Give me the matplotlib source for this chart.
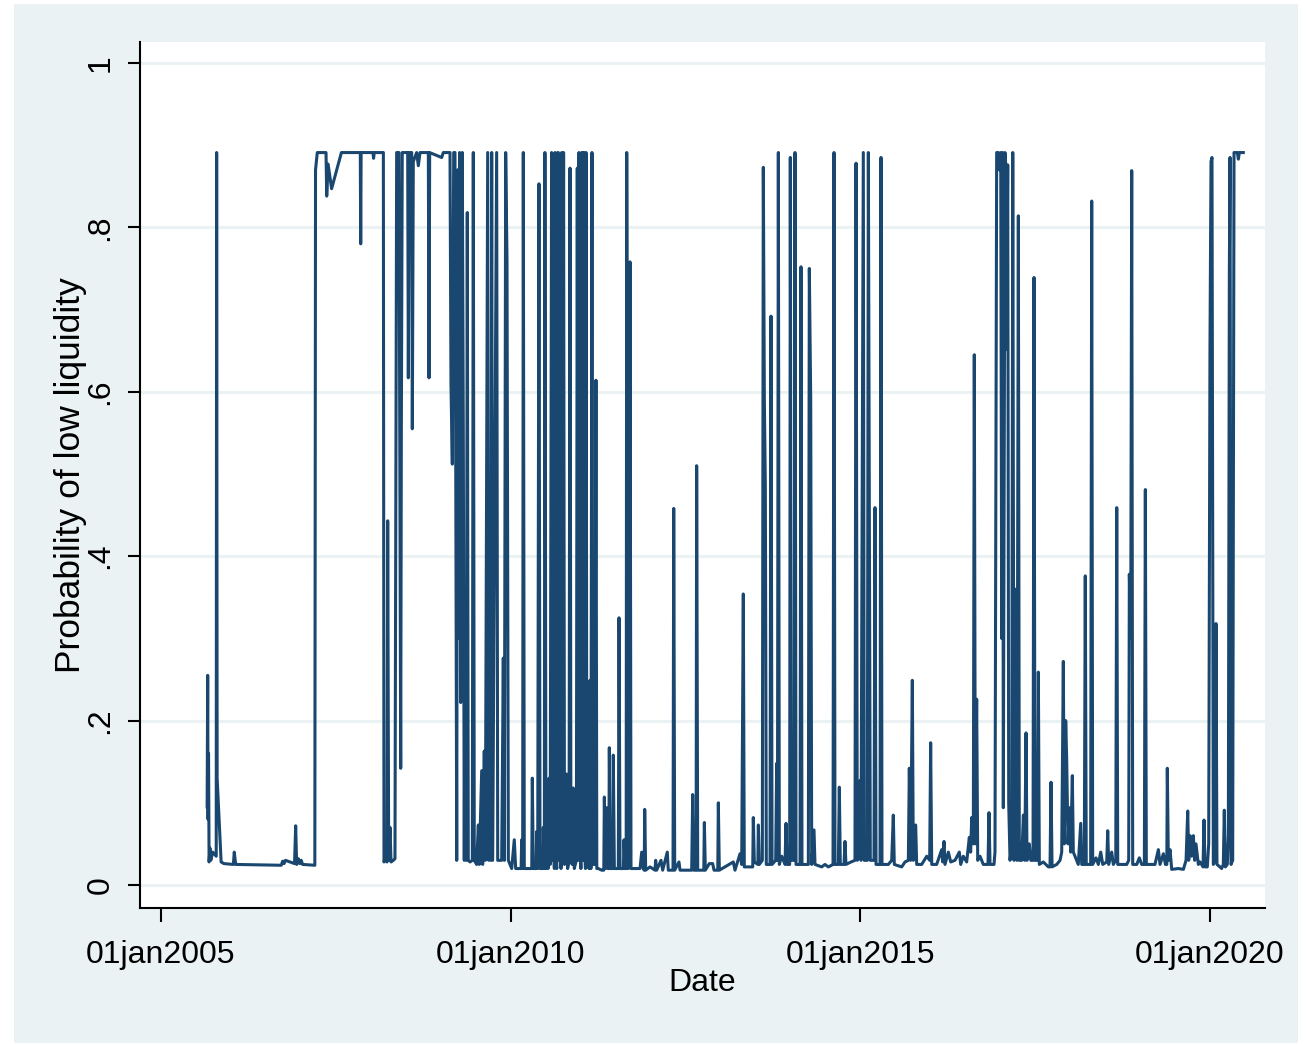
import numpy as np
import matplotlib
matplotlib.use('Agg')
import matplotlib.pyplot as plt
from matplotlib.patches import Rectangle

plt.rcParams['font.family'] = ['Liberation Sans', 'DejaVu Sans']

# ---------------------------------------------------------------------------
# Data: (decimal year, probability), one list per period
# ---------------------------------------------------------------------------
pts_2005_2008 = [
    (2005.660, 0.095), (2005.668, 0.255), (2005.673, 0.080), (2005.680, 0.160),
    (2005.688, 0.028), (2005.700, 0.045), (2005.712, 0.030), (2005.740, 0.040),
    (2005.790, 0.035), (2005.796, 0.891), (2005.803, 0.130), (2005.860, 0.028),
    (2005.900, 0.026), (2006.035, 0.025), (2006.048, 0.040), (2006.068, 0.025),
    (2006.720, 0.024), (2006.740, 0.029), (2006.760, 0.026), (2006.780, 0.030),
    (2006.910, 0.026), (2006.926, 0.072), (2006.940, 0.025), (2006.965, 0.032),
    (2006.985, 0.026), (2007.005, 0.030), (2007.025, 0.025), (2007.200, 0.024),
    (2007.210, 0.870), (2007.235, 0.891), (2007.360, 0.891), (2007.370, 0.838),
    (2007.390, 0.877), (2007.440, 0.847), (2007.580, 0.891), (2007.850, 0.891),
    (2007.856, 0.780), (2007.862, 0.891), (2008.030, 0.891), (2008.040, 0.884),
    (2008.050, 0.891), (2008.180, 0.891),
]

pts_2008_2010 = [
    (2008.189, 0.028), (2008.203, 0.032), (2008.232, 0.028), (2008.242, 0.443),
    (2008.256, 0.030), (2008.275, 0.070), (2008.290, 0.028), (2008.322, 0.030),
    (2008.346, 0.032), (2008.370, 0.891), (2008.403, 0.891), (2008.428, 0.142),
    (2008.437, 0.550), (2008.450, 0.891), (2008.528, 0.891), (2008.537, 0.617),
    (2008.550, 0.891), (2008.585, 0.891), (2008.594, 0.555), (2008.608, 0.880),
    (2008.656, 0.891), (2008.680, 0.875), (2008.704, 0.891), (2008.823, 0.891),
    (2008.833, 0.617), (2008.842, 0.891), (2009.014, 0.885), (2009.037, 0.891),
    (2009.133, 0.891), (2009.147, 0.608), (2009.166, 0.512), (2009.186, 0.891),
    (2009.204, 0.891), (2009.229, 0.030), (2009.243, 0.870), (2009.257, 0.300),
    (2009.271, 0.891), (2009.286, 0.222), (2009.309, 0.891), (2009.323, 0.547),
    (2009.337, 0.030), (2009.347, 0.321), (2009.366, 0.030), (2009.380, 0.818),
    (2009.394, 0.030), (2009.419, 0.028), (2009.452, 0.030), (2009.466, 0.891),
    (2009.480, 0.030), (2009.514, 0.025), (2009.538, 0.073), (2009.552, 0.025),
    (2009.586, 0.139), (2009.600, 0.025), (2009.623, 0.163), (2009.638, 0.030),
    (2009.672, 0.891), (2009.686, 0.030), (2009.705, 0.180), (2009.715, 0.030),
    (2009.729, 0.891), (2009.743, 0.030), (2009.800, 0.891), (2009.815, 0.030),
    (2009.872, 0.030), (2009.895, 0.276), (2009.909, 0.030), (2009.929, 0.891),
    (2009.948, 0.760), (2009.967, 0.030), (2010.015, 0.020), (2010.052, 0.055),
    (2010.072, 0.020), (2010.150, 0.020), (2010.158, 0.055), (2010.172, 0.020),
    (2010.181, 0.891), (2010.195, 0.020), (2010.252, 0.020), (2010.302, 0.020),
    (2010.310, 0.130), (2010.324, 0.020), (2010.365, 0.020), (2010.372, 0.065),
    (2010.387, 0.020), (2010.405, 0.853), (2010.420, 0.020), (2010.460, 0.020),
    (2010.467, 0.070), (2010.482, 0.020), (2010.490, 0.891),
]

pts_2010_2011 = [
    (2010.505, 0.020), (2010.520, 0.050), (2010.535, 0.020), (2010.550, 0.130),
    (2010.565, 0.025), (2010.586, 0.891), (2010.600, 0.030), (2010.615, 0.070),
    (2010.625, 0.020), (2010.634, 0.891), (2010.645, 0.030), (2010.660, 0.020),
    (2010.672, 0.891), (2010.682, 0.891), (2010.695, 0.030), (2010.710, 0.100),
    (2010.720, 0.020), (2010.730, 0.891), (2010.742, 0.030), (2010.757, 0.891),
    (2010.770, 0.025), (2010.800, 0.135), (2010.815, 0.020), (2010.835, 0.030),
    (2010.849, 0.872), (2010.862, 0.030), (2010.880, 0.025), (2010.896, 0.118),
    (2010.910, 0.020), (2010.940, 0.030), (2010.953, 0.872), (2010.965, 0.030),
    (2010.977, 0.891), (2010.990, 0.050), (2011.005, 0.020), (2011.016, 0.891),
    (2011.028, 0.891), (2011.038, 0.030), (2011.049, 0.891), (2011.060, 0.040),
    (2011.070, 0.020), (2011.078, 0.891), (2011.090, 0.025), (2011.110, 0.040),
    (2011.120, 0.020), (2011.135, 0.249), (2011.148, 0.020), (2011.163, 0.891),
    (2011.175, 0.025), (2011.205, 0.025), (2011.220, 0.614), (2011.232, 0.020),
]

pts_2011_2013 = [
    (2011.254, 0.020), (2011.302, 0.018), (2011.332, 0.018), (2011.340, 0.107),
    (2011.354, 0.020), (2011.373, 0.094), (2011.388, 0.020), (2011.404, 0.020),
    (2011.411, 0.167), (2011.425, 0.020), (2011.460, 0.020), (2011.468, 0.158),
    (2011.483, 0.020), (2011.540, 0.020), (2011.550, 0.325), (2011.564, 0.020),
    (2011.612, 0.020), (2011.621, 0.055), (2011.635, 0.020), (2011.652, 0.020),
    (2011.660, 0.891), (2011.683, 0.020), (2011.697, 0.030), (2011.707, 0.758),
    (2011.721, 0.020), (2011.850, 0.020), (2011.874, 0.040), (2011.897, 0.020),
    (2011.910, 0.018), (2011.917, 0.092), (2011.931, 0.018), (2011.993, 0.022),
    (2012.064, 0.018), (2012.074, 0.030), (2012.088, 0.018), (2012.150, 0.030),
    (2012.174, 0.018), (2012.240, 0.040), (2012.254, 0.018), (2012.322, 0.018),
    (2012.332, 0.458), (2012.346, 0.018), (2012.407, 0.028), (2012.422, 0.018),
    (2012.589, 0.018), (2012.603, 0.110), (2012.618, 0.018), (2012.652, 0.018),
    (2012.660, 0.510), (2012.675, 0.018), (2012.762, 0.018), (2012.770, 0.076),
    (2012.784, 0.018), (2012.841, 0.026), (2012.889, 0.026), (2012.908, 0.018),
    (2012.962, 0.018), (2012.970, 0.100), (2012.984, 0.018), (2013.184, 0.028),
    (2013.208, 0.018), (2013.280, 0.038), (2013.304, 0.025), (2013.327, 0.354),
    (2013.341, 0.022),
]

pts_2013_2016 = [
    (2013.423, 0.022), (2013.462, 0.022), (2013.470, 0.082), (2013.485, 0.028),
    (2013.535, 0.025), (2013.542, 0.073), (2013.556, 0.025), (2013.599, 0.030),
    (2013.613, 0.873), (2013.628, 0.590), (2013.642, 0.485), (2013.656, 0.025),
    (2013.709, 0.025), (2013.723, 0.692), (2013.738, 0.025), (2013.790, 0.030),
    (2013.804, 0.148), (2013.815, 0.030), (2013.828, 0.891), (2013.842, 0.025),
    (2013.876, 0.035), (2013.923, 0.025), (2013.938, 0.075), (2013.952, 0.025),
    (2013.990, 0.025), (2013.999, 0.885), (2014.013, 0.030), (2014.052, 0.030),
    (2014.066, 0.891), (2014.081, 0.025), (2014.138, 0.025), (2014.152, 0.752),
    (2014.166, 0.025), (2014.257, 0.025), (2014.271, 0.750), (2014.291, 0.590),
    (2014.305, 0.025), (2014.338, 0.067), (2014.352, 0.025), (2014.448, 0.022),
    (2014.495, 0.025), (2014.542, 0.022), (2014.610, 0.025), (2014.624, 0.891),
    (2014.638, 0.025), (2014.686, 0.025), (2014.700, 0.119), (2014.714, 0.025),
    (2014.767, 0.025), (2014.781, 0.053), (2014.795, 0.025), (2014.867, 0.028),
    (2014.924, 0.030), (2014.939, 0.878), (2014.957, 0.030), (2014.996, 0.127),
    (2015.010, 0.030), (2015.043, 0.891), (2015.057, 0.030), (2015.100, 0.030),
    (2015.115, 0.891), (2015.129, 0.440), (2015.143, 0.030), (2015.196, 0.030),
    (2015.210, 0.459), (2015.225, 0.025), (2015.282, 0.025), (2015.296, 0.885),
    (2015.310, 0.025), (2015.401, 0.025), (2015.449, 0.030), (2015.472, 0.085),
    (2015.486, 0.025), (2015.592, 0.022), (2015.639, 0.028), (2015.687, 0.030),
    (2015.701, 0.142), (2015.720, 0.030), (2015.744, 0.249), (2015.758, 0.030),
    (2015.792, 0.073), (2015.806, 0.025), (2015.878, 0.025), (2015.950, 0.035),
    (2015.992, 0.030), (2016.006, 0.173), (2016.021, 0.025), (2016.092, 0.025),
    (2016.164, 0.043), (2016.178, 0.028), (2016.197, 0.053), (2016.211, 0.025),
    (2016.259, 0.040), (2016.293, 0.028), (2016.354, 0.030), (2016.416, 0.040),
    (2016.436, 0.025), (2016.473, 0.035), (2016.521, 0.028), (2016.559, 0.058),
    (2016.578, 0.040), (2016.593, 0.082), (2016.616, 0.050), (2016.630, 0.645),
    (2016.645, 0.050), (2016.664, 0.226), (2016.679, 0.030), (2016.712, 0.035),
    (2016.759, 0.025), (2016.826, 0.025), (2016.840, 0.088), (2016.855, 0.025),
    (2016.912, 0.025), (2016.926, 0.040),
]

pts_2017_2020 = [
    (2016.950, 0.891), (2016.974, 0.891), (2016.988, 0.870), (2017.008, 0.891),
    (2017.022, 0.300), (2017.036, 0.891), (2017.045, 0.094), (2017.069, 0.891),
    (2017.084, 0.870), (2017.093, 0.652), (2017.108, 0.876), (2017.122, 0.100),
    (2017.141, 0.030), (2017.165, 0.050), (2017.180, 0.891), (2017.198, 0.030),
    (2017.227, 0.360), (2017.241, 0.030), (2017.260, 0.814), (2017.274, 0.030),
    (2017.308, 0.030), (2017.332, 0.085), (2017.351, 0.030), (2017.370, 0.185),
    (2017.384, 0.030), (2017.417, 0.050), (2017.437, 0.030), (2017.470, 0.030),
    (2017.484, 0.739), (2017.498, 0.030), (2017.531, 0.030), (2017.546, 0.259),
    (2017.560, 0.025), (2017.617, 0.028), (2017.689, 0.022), (2017.713, 0.022),
    (2017.727, 0.125), (2017.742, 0.022), (2017.809, 0.025), (2017.856, 0.030),
    (2017.880, 0.040), (2017.903, 0.272), (2017.917, 0.050), (2017.937, 0.200),
    (2017.951, 0.154), (2017.970, 0.050), (2017.989, 0.094), (2018.008, 0.040),
    (2018.032, 0.133), (2018.046, 0.040), (2018.070, 0.035), (2018.117, 0.025),
    (2018.152, 0.075), (2018.166, 0.025), (2018.203, 0.025), (2018.217, 0.376),
    (2018.231, 0.025), (2018.294, 0.025), (2018.309, 0.832), (2018.323, 0.025),
    (2018.370, 0.033), (2018.404, 0.025), (2018.438, 0.040), (2018.467, 0.025),
    (2018.524, 0.028), (2018.538, 0.066), (2018.552, 0.025), (2018.595, 0.040),
    (2018.618, 0.025), (2018.653, 0.030), (2018.667, 0.459), (2018.681, 0.025),
    (2018.724, 0.025), (2018.810, 0.025), (2018.838, 0.030), (2018.847, 0.378),
    (2018.867, 0.300), (2018.881, 0.869), (2018.895, 0.025), (2018.953, 0.025),
    (2018.990, 0.033), (2019.024, 0.025), (2019.062, 0.025), (2019.076, 0.481),
    (2019.090, 0.025), (2019.143, 0.025), (2019.214, 0.025), (2019.262, 0.043),
    (2019.286, 0.025), (2019.334, 0.038), (2019.363, 0.025), (2019.383, 0.025),
    (2019.390, 0.142), (2019.405, 0.030), (2019.429, 0.043), (2019.453, 0.019),
    (2019.548, 0.020), (2019.620, 0.019), (2019.658, 0.030), (2019.682, 0.090),
    (2019.696, 0.030), (2019.715, 0.060), (2019.739, 0.035), (2019.762, 0.060),
    (2019.782, 0.030), (2019.800, 0.050), (2019.834, 0.025), (2019.858, 0.028),
    (2019.901, 0.022), (2019.915, 0.079), (2019.929, 0.022), (2019.962, 0.022),
    (2019.982, 0.050), (2020.000, 0.652), (2020.015, 0.880), (2020.029, 0.885),
    (2020.048, 0.025), (2020.072, 0.030), (2020.086, 0.318), (2020.100, 0.025),
    (2020.143, 0.022), (2020.167, 0.020), (2020.191, 0.025), (2020.205, 0.091),
    (2020.220, 0.022), (2020.248, 0.025), (2020.263, 0.060), (2020.277, 0.745),
    (2020.287, 0.885), (2020.301, 0.025), (2020.325, 0.030), (2020.344, 0.891),
    (2020.392, 0.891), (2020.406, 0.883), (2020.420, 0.891), (2020.477, 0.891),
]

x_ticks = [2005, 2010, 2015, 2020]
x_labels = ['01jan2005', '01jan2010', '01jan2015', '01jan2020']
y_ticks = [0, 0.2, 0.4, 0.6, 0.8, 1]
y_labels = ['0', '.2', '.4', '.6', '.8', '1']

series = np.array(pts_2005_2008 + pts_2008_2010 + pts_2010_2011
                  + pts_2011_2013 + pts_2013_2016 + pts_2017_2020)
years, prob = series[:, 0], series[:, 1]

# ---------------------------------------------------------------------------
# Figure (Stata s2color look)
# ---------------------------------------------------------------------------
W, H = 1306, 1046
fig = plt.figure(figsize=(W / 100, H / 100), dpi=100, facecolor='white')
fig.patches.append(Rectangle((14 / W, 3 / H), 1284 / W, 1039 / H,
                             transform=fig.transFigure, facecolor='#EAF2F3',
                             edgecolor='none', zorder=-10))

ax = fig.add_axes([140 / W, (H - 908) / H, 1125 / W, 866 / H], zorder=1)
ax.set_facecolor('white')
ax.plot(years, prob, color='#1A476F', lw=2.2, zorder=3)

ax.set_xlim(2004.70, 2020.787)
ax.set_ylim(-0.028, 1.0255)

for y in y_ticks:
    ax.axhline(y, color='#EAF2F3', lw=2.2, zorder=1)

for s in ['top', 'right']:
    ax.spines[s].set_visible(False)
for s in ['left', 'bottom']:
    ax.spines[s].set_linewidth(1.5)
    ax.spines[s].set_color('black')

ax.set_xticks(x_ticks)
ax.set_xticklabels(x_labels)
ax.set_yticks(y_ticks)
ax.set_yticklabels(y_labels, rotation=90, va='center')
ax.tick_params(axis='x', length=10, width=1.5, pad=13, labelsize=23, direction='out')
ax.tick_params(axis='y', length=8.6, width=1.5, pad=9, labelsize=23, direction='out')

ax.set_xlabel('Date', fontsize=23)
ax.xaxis.set_label_coords(0.5, -0.069)
ax.set_ylabel('Probability of low liquidity', fontsize=25.5)
ax.yaxis.set_label_coords(-0.047, 0.5)

fig.savefig('out.png', dpi=100, facecolor=fig.get_facecolor())
